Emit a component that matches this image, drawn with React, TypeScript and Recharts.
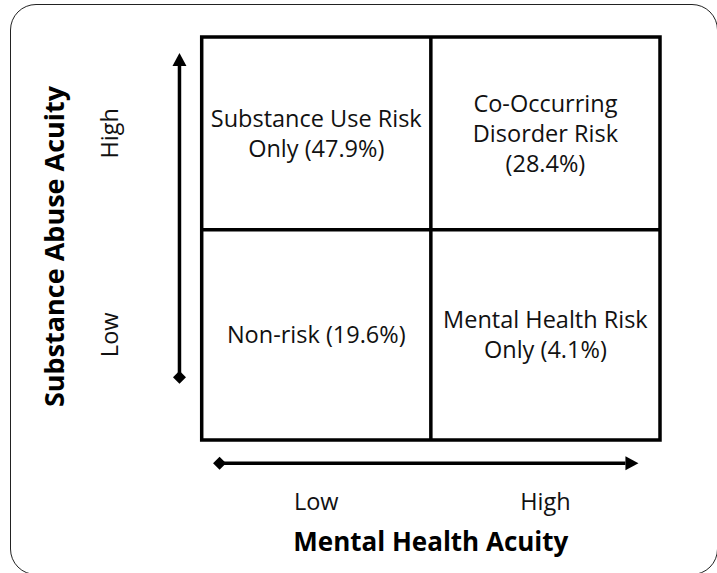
import React from 'react';
import {
  ScatterChart,
  Scatter,
  XAxis,
  YAxis,
  ReferenceLine,
  ReferenceArea,
} from 'recharts';

// axis levels (tick labels)
const xLevels = ['Low', 'High'];
const yLevels = ['Low', 'High'];

// cell edges, in percent of the grid
const xEdges = [0, 50, 100];
const yEdges = [0, 52.2, 100];

// quadrant labels: col / row index into the edges above
const quadrants = [
  { col: 0, row: 1, lines: ['Substance Use Risk', 'Only (47.9%)'] },
  { col: 1, row: 1, lines: ['Co-Occurring', 'Disorder Risk', '(28.4%)'] },
  { col: 0, row: 0, lines: ['Non-risk (19.6%)'] },
  { col: 1, row: 0, lines: ['Mental Health Risk', 'Only (4.1%)'] },
];

const xTitle = 'Mental Health Acuity';
const yTitle = 'Substance Abuse Acuity';

const FONT = '"Open Sans", sans-serif';
const W = 717;
const H = 573;

const mid = (edges: number[], i: number) => (edges[i] + edges[i + 1]) / 2;
const xCenters = xLevels.map((_, i) => mid(xEdges, i));
const yCenters = yLevels.map((_, i) => mid(yEdges, i));

const cellData = quadrants.map((q) => ({
  x: mid(xEdges, q.col),
  y: mid(yEdges, q.row),
  lines: q.lines,
}));

// arrows sit just outside the grid
const xArrow = [{ x: 3.9, y: -5.8 }, { x: 95.3, y: -5.8 }];
const yArrow = [{ x: -4.85, y: 15.6 }, { x: -4.85, y: 96 }];

const CellLabel = (props: any) => {
  const { cx, cy, payload } = props;
  const lines: string[] = payload.lines;
  const lh = 30;
  return (
    <text textAnchor="middle" fontFamily={FONT} fontSize={23.5} fill="#111">
      {lines.map((l, i) => (
        <tspan key={i} x={cx} y={cy + (i - (lines.length - 1) / 2) * lh + 8.5}>
          {l}
        </tspan>
      ))}
    </text>
  );
};

const Arrow = (props: any) => {
  const { x1, y1, x2, y2 } = props;
  const a = Math.atan2(y2 - y1, x2 - x1);
  const c = Math.cos(a);
  const s = Math.sin(a);
  const head = 13;
  const half = 7;
  const d = 6.5;
  const bx = x2 - head * c;
  const by = y2 - head * s;
  return (
    <g>
      <line x1={x1} y1={y1} x2={bx} y2={by} stroke="#000" strokeWidth={3.5} />
      <polygon
        points={`${x2},${y2} ${bx - s * half},${by + c * half} ${bx + s * half},${by - c * half}`}
        fill="#000"
      />
      <polygon
        points={`${x1 - d},${y1} ${x1},${y1 - d} ${x1 + d},${y1} ${x1},${y1 + d}`}
        fill="#000"
      />
    </g>
  );
};

const XTick = (props: any) => {
  const { x, y, payload } = props;
  const i = xCenters.indexOf(payload.value);
  return (
    <text x={x} y={y + 68} textAnchor="middle" fontFamily={FONT} fontSize={23.5} fill="#111">
      {xLevels[i]}
    </text>
  );
};

const YTick = (props: any) => {
  const { y, payload } = props;
  const i = yCenters.indexOf(payload.value);
  const tx = 118;
  return (
    <text
      x={tx}
      y={y}
      transform={`rotate(-90 ${tx} ${y})`}
      textAnchor="middle"
      fontFamily={FONT}
      fontSize={23.5}
      fill="#111"
    >
      {yLevels[i]}
    </text>
  );
};

const XTitle = (props: any) => {
  const { viewBox } = props;
  const cx = viewBox.x + viewBox.width / 2;
  return (
    <text x={cx} y={551} textAnchor="middle" fontFamily={FONT} fontWeight={700} fontSize={26} fill="#000">
      {xTitle}
    </text>
  );
};

const YTitle = (props: any) => {
  const { viewBox } = props;
  const cy = viewBox.y + viewBox.height / 2 + 8;
  const tx = 64;
  return (
    <text
      x={tx}
      y={cy}
      transform={`rotate(-90 ${tx} ${cy})`}
      textAnchor="middle"
      fontFamily={FONT}
      fontWeight={700}
      fontSize={27}
      fill="#000"
    >
      {yTitle}
    </text>
  );
};

export default function App() {
  return (
    <div style={{ position: 'absolute', left: 0, top: 0, width: W, height: H, background: '#fff', overflow: 'hidden' }}>
      <div
        style={{
          position: 'absolute',
          left: 10,
          top: 4,
          width: 708,
          height: 571,
          border: '1.5px solid #222',
          borderRadius: 26,
          boxSizing: 'border-box',
        }}
      />
      <ScatterChart
        width={W}
        height={H}
        margin={{ top: 37, right: 57, bottom: 0, left: 0 }}
        style={{ position: 'absolute', left: 0, top: 0 }}
      >
        <XAxis
          type="number"
          dataKey="x"
          domain={[0, 100]}
          ticks={xCenters}
          axisLine={false}
          tickLine={false}
          tickSize={0}
          height={133}
          tick={<XTick />}
          label={<XTitle />}
        />
        <YAxis
          type="number"
          dataKey="y"
          domain={[0, 100]}
          ticks={yCenters}
          axisLine={false}
          tickLine={false}
          tickSize={0}
          width={201.7}
          tick={<YTick />}
          label={<YTitle />}
        />
        <ReferenceArea
          x1={xEdges[0]}
          x2={xEdges[xEdges.length - 1]}
          y1={yEdges[0]}
          y2={yEdges[yEdges.length - 1]}
          fill="none"
          fillOpacity={0}
          stroke="#000"
          strokeWidth={3.5}
        />
        {xEdges.slice(1, -1).map((v) => (
          <ReferenceLine key={'x' + v} x={v} stroke="#000" strokeWidth={3.5} />
        ))}
        {yEdges.slice(1, -1).map((v) => (
          <ReferenceLine key={'y' + v} y={v} stroke="#000" strokeWidth={3.5} />
        ))}
        <ReferenceLine segment={xArrow} ifOverflow="visible" shape={<Arrow />} />
        <ReferenceLine segment={yArrow} ifOverflow="visible" shape={<Arrow />} />
        <Scatter data={cellData} shape={<CellLabel />} isAnimationActive={false} />
      </ScatterChart>
    </div>
  );
}
